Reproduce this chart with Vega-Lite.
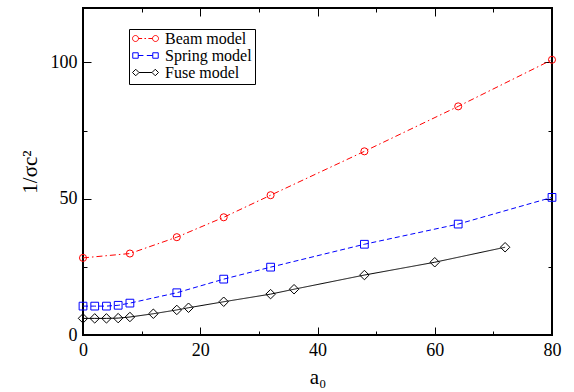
{
  "$schema": "https://vega.github.io/schema/vega-lite/v6.json",
  "width": 469,
  "height": 327,
  "autosize": {"type": "none"},
  "padding": {"left": 83, "top": 8, "right": 22, "bottom": 57},
  "background": "white",
  "data": {
    "values": [
      {"series": "Beam model", "a0": 0, "v": 28.3},
      {"series": "Beam model", "a0": 8, "v": 29.9},
      {"series": "Beam model", "a0": 16, "v": 35.9},
      {"series": "Beam model", "a0": 24, "v": 43.2},
      {"series": "Beam model", "a0": 32, "v": 51.3},
      {"series": "Beam model", "a0": 48, "v": 67.4},
      {"series": "Beam model", "a0": 64, "v": 83.9},
      {"series": "Beam model", "a0": 80, "v": 101},
      {"series": "Spring model", "a0": 0, "v": 10.6},
      {"series": "Spring model", "a0": 2, "v": 10.6},
      {"series": "Spring model", "a0": 4, "v": 10.6},
      {"series": "Spring model", "a0": 6, "v": 10.9},
      {"series": "Spring model", "a0": 8, "v": 11.7},
      {"series": "Spring model", "a0": 16, "v": 15.5},
      {"series": "Spring model", "a0": 24, "v": 20.5},
      {"series": "Spring model", "a0": 32, "v": 24.9},
      {"series": "Spring model", "a0": 48, "v": 33.3},
      {"series": "Spring model", "a0": 64, "v": 40.7},
      {"series": "Spring model", "a0": 80, "v": 50.5},
      {"series": "Fuse model", "a0": 0, "v": 6.1},
      {"series": "Fuse model", "a0": 2, "v": 6.1},
      {"series": "Fuse model", "a0": 4, "v": 6.1},
      {"series": "Fuse model", "a0": 6, "v": 6.2},
      {"series": "Fuse model", "a0": 8, "v": 6.6},
      {"series": "Fuse model", "a0": 12, "v": 7.8},
      {"series": "Fuse model", "a0": 16, "v": 9.2},
      {"series": "Fuse model", "a0": 18, "v": 10.0},
      {"series": "Fuse model", "a0": 24, "v": 12.2},
      {"series": "Fuse model", "a0": 32, "v": 15.0},
      {"series": "Fuse model", "a0": 36, "v": 16.8},
      {"series": "Fuse model", "a0": 48, "v": 22.0},
      {"series": "Fuse model", "a0": 60, "v": 26.7},
      {"series": "Fuse model", "a0": 72, "v": 32.2}
    ]
  },
  "resolve": {"axis": {"x": "independent", "y": "independent"}},
  "layer": [
    {
      "mark": {"type": "line", "strokeWidth": 1, "clip": true},
      "encoding": {
        "x": {"field": "a0", "type": "quantitative", "scale": {"domain": [0, 80], "nice": false, "zero": false},
              "axis": {"orient": "bottom", "values": [0, 20, 40, 60, 80], "tickSize": -8, "labelPadding": 14, "title": "a₀", "titlePadding": 7}},
        "y": {"field": "v", "type": "quantitative", "scale": {"domain": [0, 120], "nice": false, "zero": false},
              "axis": {"orient": "left", "values": [0, 50, 100], "tickSize": -8, "labelPadding": 14, "title": "1/σc²", "titlePadding": 10}},
        "stroke": {"field": "series", "type": "nominal", "legend": null,
                  "scale": {"domain": ["Fuse model", "Beam model", "Spring model"], "range": ["#000000", "#ff0000", "#0000ff"]}},
        "strokeDash": {"field": "series", "type": "nominal", "legend": null,
                  "scale": {"domain": ["Spring model", "Fuse model", "Beam model"], "range": [[5, 3], [1, 0], [6, 3, 1.5, 3]]}}
      }
    },
    {
      "transform": [{"filter": "datum.series === 'Beam model'"}],
      "mark": {"type": "point", "shape": "circle", "filled": false, "size": 50, "strokeWidth": 1, "color": "#ff0000", "opacity": 1},
      "encoding": {
        "x": {"field": "a0", "type": "quantitative", "axis": {"orient": "bottom", "values": [10, 30, 50, 70], "tickSize": -4, "labels": false, "title": null}},
        "y": {"field": "v", "type": "quantitative", "axis": {"orient": "left", "values": [25, 75], "tickSize": -4, "labels": false, "title": null}}
      }
    },
    {
      "transform": [{"filter": "datum.series === 'Spring model'"}],
      "mark": {"type": "point", "shape": "square", "filled": false, "size": 60, "strokeWidth": 1, "color": "#0000ff", "opacity": 1},
      "encoding": {
        "x": {"field": "a0", "type": "quantitative", "axis": {"orient": "top", "values": [20, 40, 60], "tickSize": -8, "labels": false, "title": null}},
        "y": {"field": "v", "type": "quantitative", "axis": {"orient": "right", "values": [50, 100], "tickSize": -8, "labels": false, "title": null}}
      }
    },
    {
      "transform": [{"filter": "datum.series === 'Fuse model'"}],
      "mark": {"type": "point", "shape": "diamond", "filled": false, "size": 90, "strokeWidth": 1, "color": "#000000", "opacity": 1},
      "encoding": {
        "x": {"field": "a0", "type": "quantitative", "axis": {"orient": "top", "values": [10, 30, 50, 70], "tickSize": -4, "labels": false, "title": null}},
        "y": {"field": "v", "type": "quantitative", "axis": {"orient": "right", "values": [25, 75], "tickSize": -4, "labels": false, "title": null}}
      }
    },
    {
      "transform": [{"filter": "false"}],
      "mark": {"type": "point", "filled": false, "size": 676, "strokeWidth": 1, "opacity": 1},
      "encoding": {
        "x": {"field": "a0", "type": "quantitative", "axis": null},
        "y": {"field": "v", "type": "quantitative", "axis": null},
        "color": {"field": "series", "type": "nominal",
                  "scale": {"domain": ["Beam model", "Spring model", "Fuse model"], "range": ["#ff0000", "#0000ff", "#000000"]},
                  "legend": {"orient": "none", "legendX": 46, "legendY": 21, "title": null, "clipHeight": 13, "rowPadding": 0}},
        "shape": {"field": "series", "type": "nominal",
                  "scale": {"domain": ["Beam model", "Spring model", "Fuse model"],
                            "range": [
                              "M-1,0C-1,-0.127 -0.897,-0.23 -0.77,-0.23C-0.643,-0.23 -0.54,-0.127 -0.54,0C-0.54,0.127 -0.643,0.23 -0.77,0.23C-0.897,0.23 -1,0.127 -1,0ZM0.54,0C0.54,-0.127 0.643,-0.23 0.77,-0.23C0.897,-0.23 1,-0.127 1,0C1,0.127 0.897,0.23 0.77,0.23C0.643,0.23 0.54,0.127 0.54,0ZM-0.54,0L-0.26,0M-0.08,0L0.04,0M0.22,0L0.54,0",
                              "M-0.98,-0.21L-0.56,-0.21L-0.56,0.21L-0.98,0.21ZM0.56,-0.21L0.98,-0.21L0.98,0.21L0.56,0.21ZM-0.56,0L-0.16,0M0.1,0L0.56,0",
                              "M-1,0L-0.75,-0.25L-0.5,0L-0.75,0.25ZM0.5,0L0.75,-0.25L1,0L0.75,0.25ZM-0.5,0L0.5,0"
                            ]},
                  "legend": {"orient": "none", "legendX": 46, "legendY": 21, "title": null, "clipHeight": 13, "rowPadding": 0}}
      }
    }
  ],
  "config": {
    "font": "Liberation Serif",
    "view": {"stroke": "black", "strokeWidth": 2},
    "axis": {
      "grid": false,
      "domain": false,
      "labelFlush": false,
      "tickColor": "black",
      "tickWidth": 1,
      "labelFont": "Liberation Serif",
      "labelFontSize": 18,
      "labelColor": "black",
      "titleFont": "Liberation Serif",
      "titleFontSize": 21,
      "titleFontWeight": "normal",
      "titleColor": "black"
    },
    "legend": {
      "strokeColor": "black",
      "fillColor": "white",
      "padding": 3,
      "labelFont": "Liberation Serif",
      "labelFontSize": 16,
      "labelColor": "black",
      "labelOffset": 6,
      "symbolSize": 676,
      "symbolStrokeWidth": 1,
      "cornerRadius": 0
    }
  }
}
